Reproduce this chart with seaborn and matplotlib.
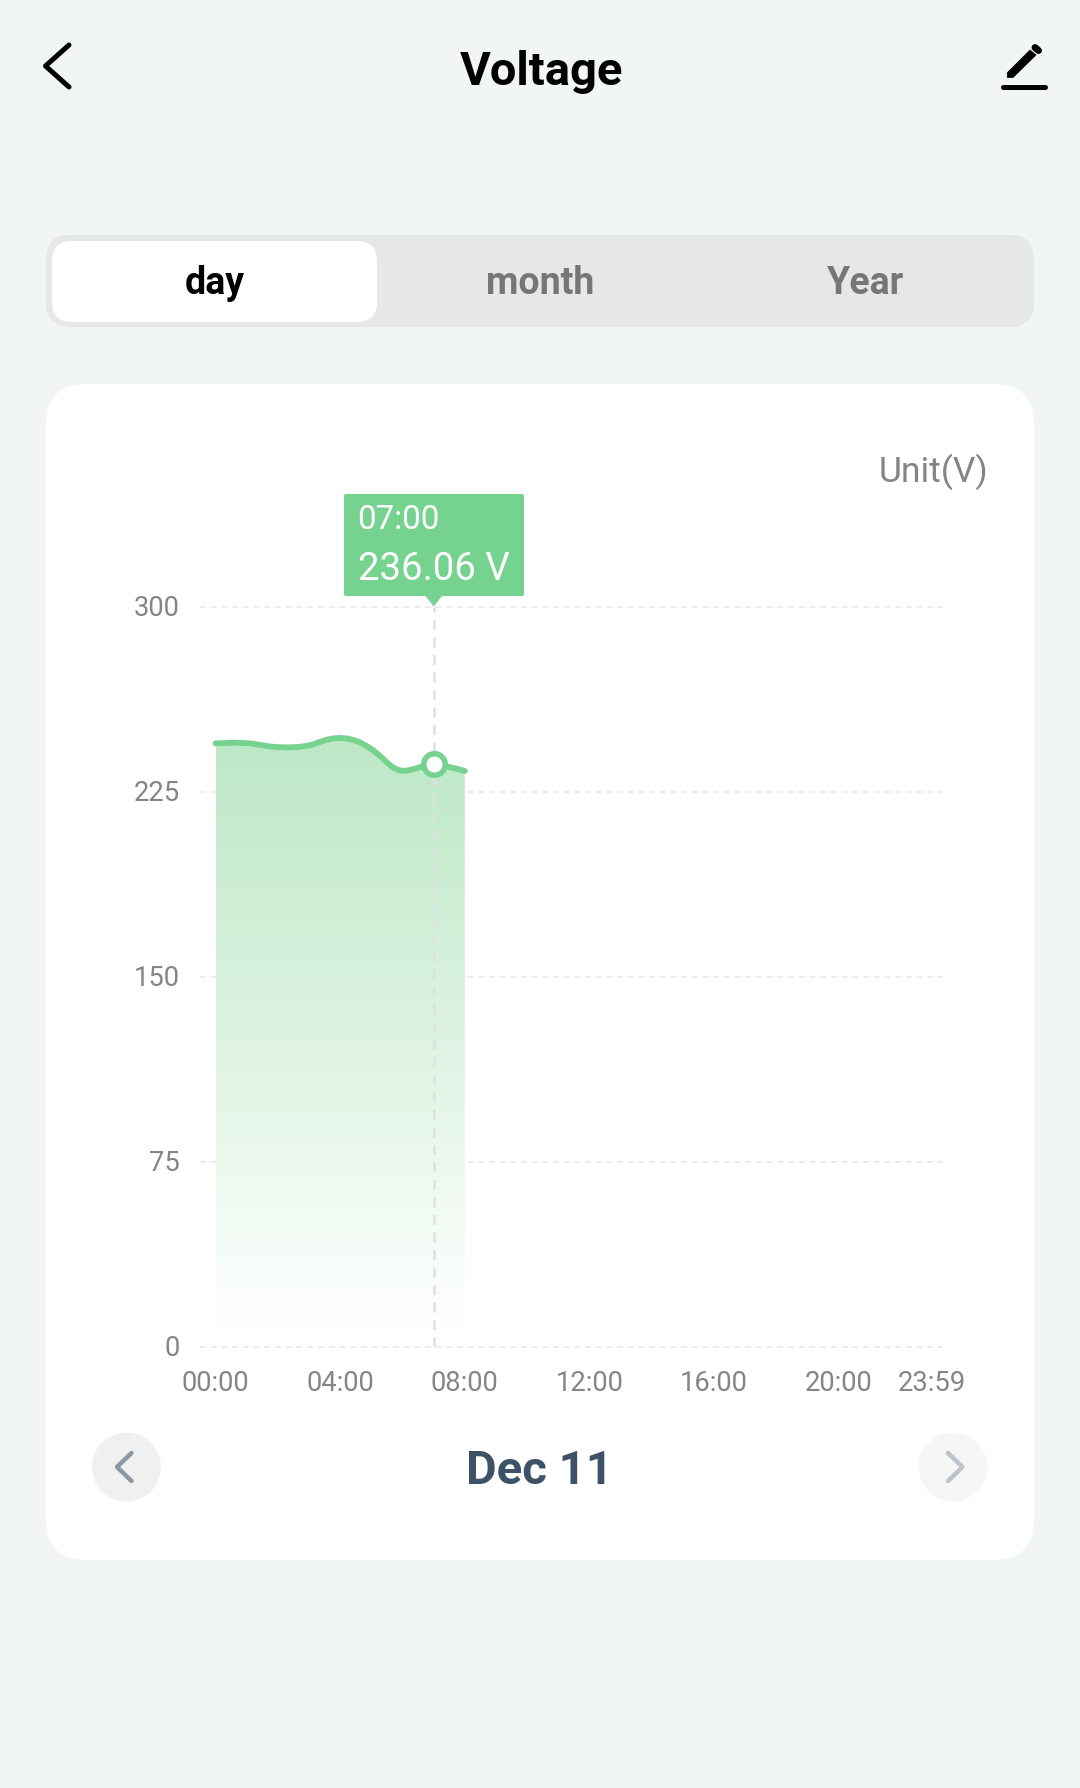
import numpy as np
import pandas as pd
import matplotlib
matplotlib.use("Agg")
import matplotlib.pyplot as plt
import seaborn as sns
from matplotlib.colors import LinearSegmentedColormap
from matplotlib.patches import Circle, FancyBboxPatch, Polygon
from matplotlib.transforms import ScaledTranslation

# ============================
# Data
# ============================
HOURS = [0.0, 0.25, 0.57, 1.11, 1.38, 1.64, 1.9, 2.18, 2.45, 2.71, 2.93,
         3.14, 3.35, 3.57, 3.78, 4.0, 4.21, 4.42, 4.64, 4.85, 5.07, 5.28,
         5.47, 5.66, 5.82, 5.98, 6.11, 6.24, 6.62, 7.0, 7.47, 7.74, 8.0]
VOLTS = [244.6, 244.7, 244.9, 244.6, 244.1, 243.5, 243.15, 243.0, 243.0, 243.2, 243.6,
         244.2, 245.2, 246.1, 246.6, 246.8, 246.6, 246.0, 245.0, 243.5, 241.7, 239.5,
         237.2, 235.1, 234.0, 233.5, 233.5, 233.8, 235.1, 236.06, 235.1, 234.3, 233.4]

Y_TICKS = [0, 75, 150, 225, 300]
# the app pulls the last label inwards, so 23:59 does not sit at its true hour
X_TICKS = [0, 4, 8, 12, 16, 20, 23.0]
X_LABELS = ["00:00", "04:00", "08:00", "12:00", "16:00", "20:00", "23:59"]

CURSOR_HOUR = 7.0
CURSOR_VOLT = 236.06
TABS = ["day", "month", "Year"]

# ============================
# Colours
# ============================
BG = "#f1f5f4"
GREEN = "#76d28f"
GREY_TEXT = "#858585"
GRID = "#e6e8e8"

W, H = 1080, 1788

sns.set_theme(style="white")
plt.rcParams["font.family"] = ["Roboto", "DejaVu Sans"]


def rounded(ax, x0, y0, x1, y1, radius, color):
    ax.add_patch(FancyBboxPatch((x0, y0), x1 - x0, y1 - y0,
                                boxstyle=f"round,pad=0,rounding_size={radius}",
                                facecolor=color, edgecolor="none"))


def draw_screen(ax):
    """Everything around the chart, in pixel coordinates."""
    ax.set_xlim(0, W)
    ax.set_ylim(H, 0)
    ax.axis("off")

    # header
    ax.plot([69, 45.5, 69], [45, 66, 87], color="black", lw=3.6,
            solid_capstyle="round", solid_joinstyle="round")
    ax.text(542, 72, "Voltage", ha="center", va="center", fontsize=33.9,
            fontweight="bold", color="black")
    ax.plot([1003, 1045], [86.5, 86.5], color="black", lw=3.6, solid_capstyle="round")
    ax.add_patch(Polygon([(1007.3, 77.5), (1007.3, 72.7), (1030, 50), (1036, 55), (1013, 77.5)],
                         closed=True, facecolor="black", edgecolor="black", lw=0.5,
                         joinstyle="round"))
    ax.plot([1035, 1038.5], [47.5, 50.5], color="black", lw=5, solid_capstyle="round")

    # day / month / Year switch
    rounded(ax, 46, 235, 1034, 327, 24, "#e5e8e7")
    rounded(ax, 52, 241, 377, 322, 20, "white")
    tab_x = [215, 540, 865]
    tab_color = ["black", "#747777", "#747777"]
    for label, x, color in zip(TABS, tab_x, tab_color):
        ax.text(x, 284, label, ha="center", va="center", fontsize=27,
                fontweight="bold", color=color)

    # card
    rounded(ax, 46, 384, 1034, 1560, 40, "white")
    ax.text(988, 472, "Unit(V)", ha="right", va="center", fontsize=25.5, color=GREY_TEXT)

    # tooltip
    rounded(ax, 344, 494, 524, 596, 2, GREEN)
    ax.add_patch(Polygon([(425.5, 596), (442, 596), (433.7, 606.5)], closed=True,
                         facecolor=GREEN, edgecolor="none"))
    ax.text(357, 520, "07:00", ha="left", va="center", fontsize=23.8, color="white")
    ax.text(358, 570, f"{CURSOR_VOLT:.2f} V", ha="left", va="center", fontsize=27.6,
            color="white")

    # date switcher
    ax.add_patch(Circle((126.5, 1467), 34.5, facecolor="#f0f0f1", edgecolor="none"))
    ax.add_patch(Circle((953, 1467), 34.5, facecolor="#f6f6f7", edgecolor="none"))
    ax.plot([131.5, 117, 131.5], [1453, 1467, 1481], color="#8b98a3", lw=3.2,
            solid_capstyle="round", solid_joinstyle="round")
    ax.plot([948, 962.5, 948], [1453, 1467, 1481], color="#bcc3ca", lw=3.2,
            solid_capstyle="round", solid_joinstyle="round")
    ax.text(539, 1471, "Dec 11", ha="center", va="center", fontsize=34,
            fontweight="bold", color="#3d5266")


def draw_chart(ax, df):
    ax.set_xlim(-0.5, 23.35)
    ax.set_ylim(0, 300)
    ax.patch.set_alpha(0)
    sns.despine(ax=ax, left=True, bottom=True)

    ax.set_yticks(Y_TICKS)
    ax.set_xticks(X_TICKS)
    ax.set_xticklabels(X_LABELS)
    ax.tick_params(axis="y", length=0, pad=14.5, labelsize=19.7, labelcolor=GREY_TEXT)
    ax.tick_params(axis="x", length=0, pad=16.5, labelsize=19.7, labelcolor=GREY_TEXT)
    nudge = ScaledTranslation(0, 1.2 / 72, ax.figure.dpi_scale_trans)
    for label in ax.get_yticklabels():
        label.set_transform(label.get_transform() + nudge)
    ax.grid(axis="y", color=GRID, lw=1.1, ls=(0, (4, 3)), zorder=0, clip_on=False)
    ax.set_axisbelow(True)

    # gradient area: filled polygon used as clip for a vertical ramp
    area = ax.fill_between(df["hour"], df["volt"], 0, facecolor="none", edgecolor="none")
    ramp = LinearSegmentedColormap.from_list("ramp", ["#ffffff", "#bce8c6"])
    top = df["volt"].max()
    img = ax.imshow(np.linspace(1, 0, 256).reshape(-1, 1), cmap=ramp, vmin=0, vmax=1,
                    extent=(df["hour"].min(), df["hour"].max(), 5, top),
                    aspect="auto", zorder=2)
    img.set_clip_path(area.get_paths()[0], transform=ax.transData)
    ax.set_xlim(-0.5, 23.35)
    ax.set_ylim(0, 300)

    ax.plot([CURSOR_HOUR, CURSOR_HOUR], [0, 300], color="#dfe1e1", lw=1.8,
            ls=(0, (4, 3)), zorder=3)
    sns.lineplot(data=df, x="hour", y="volt", ax=ax, color=GREEN, lw=4.2, sort=False,
                 estimator=None, zorder=4, solid_capstyle="round", solid_joinstyle="round")
    sns.scatterplot(x=[CURSOR_HOUR], y=[CURSOR_VOLT], ax=ax, s=240, color="white",
                    edgecolor=GREEN, linewidth=4, zorder=5, clip_on=False)
    ax.set_xlabel("")
    ax.set_ylabel("")


def main():
    df = pd.DataFrame({"hour": HOURS, "volt": VOLTS})

    fig = plt.figure(figsize=(W / 100, H / 100), dpi=100, facecolor=BG)

    back = fig.add_axes([0, 0, 1, 1], zorder=0)
    draw_screen(back)

    # plot area spans x 200..943 and y 606.7..1346.7 in screen pixels
    chart = fig.add_axes([200 / W, 1 - 1346.7 / H, 743 / W, 740 / H], zorder=1)
    draw_chart(chart, df)

    fig.savefig("out.png", dpi=100, facecolor=BG)
    plt.close(fig)


if __name__ == "__main__":
    main()
